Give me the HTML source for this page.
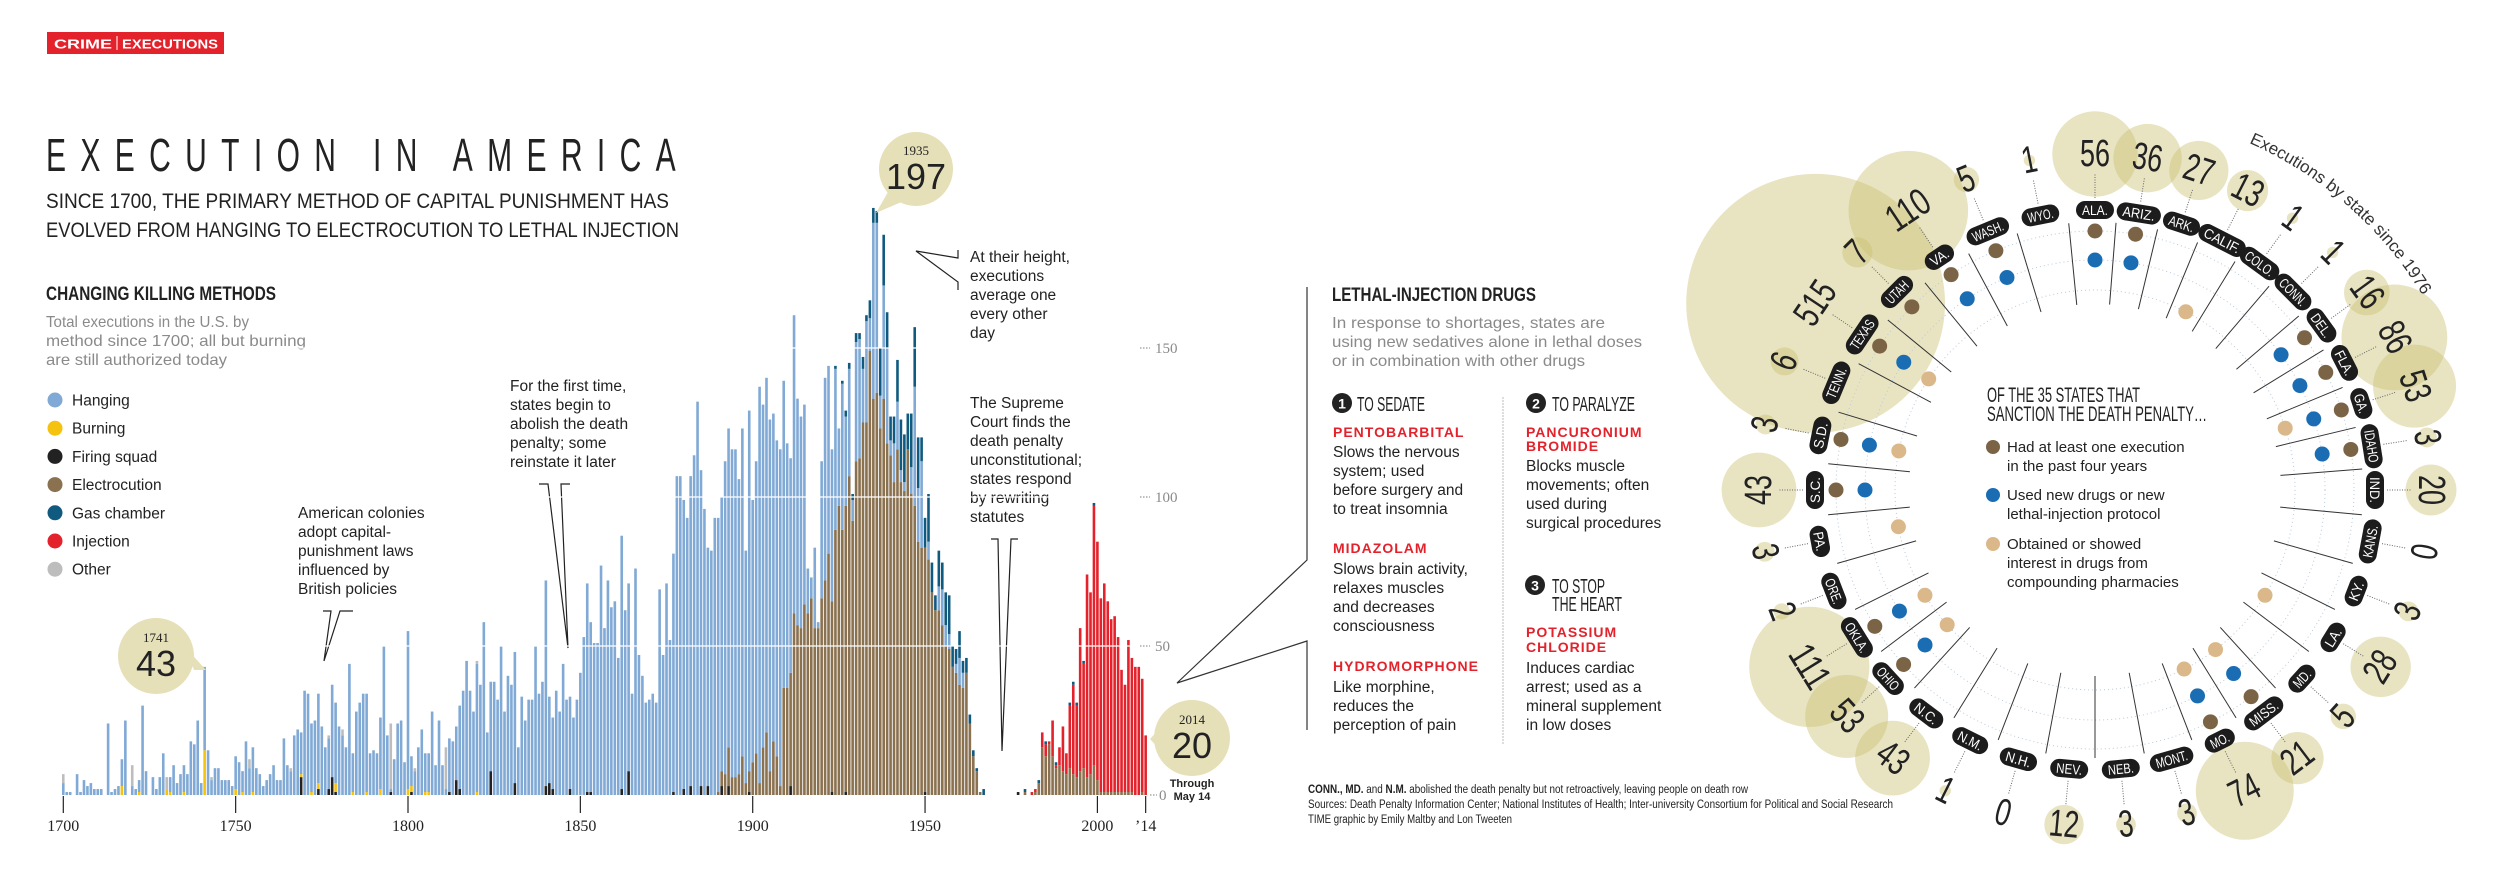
<!DOCTYPE html>
<html><head><meta charset="utf-8"><title>Execution in America</title>
<style>
html,body{margin:0;padding:0;background:#fff;}
svg{display:block;}
.n{font-family:"Liberation Sans Narrow","Liberation Sans",sans-serif;}
.s{font-family:"Liberation Sans",sans-serif;}
.sf{font-family:"Liberation Serif",serif;}
</style></head>
<body>
<svg id="root" width="2500" height="879" viewBox="0 0 2500 879" xmlns="http://www.w3.org/2000/svg">
<g>
<rect x="47" y="32" width="177" height="22" fill="#e3222b"/>
<text x="54" y="48.5" class="s" font-size="13" font-weight="bold" fill="#fff" textLength="58" lengthAdjust="spacingAndGlyphs">CRIME</text>
<line x1="117" y1="36" x2="117" y2="50" stroke="#fff" stroke-width="1"/>
<text x="122" y="48.5" class="s" font-size="13" font-weight="bold" fill="#fff" textLength="96" lengthAdjust="spacingAndGlyphs">EXECUTIONS</text>
</g>
<text x="46" y="171" class="n" font-size="46" letter-spacing="22" fill="#222" textLength="644" lengthAdjust="spacingAndGlyphs">EXECUTION IN AMERICA</text>
<text x="46" y="208" class="n" font-size="21" fill="#222" textLength="623" lengthAdjust="spacingAndGlyphs">SINCE 1700, THE PRIMARY METHOD OF CAPITAL PUNISHMENT HAS</text>
<text x="46" y="237" class="n" font-size="21" fill="#222" textLength="633" lengthAdjust="spacingAndGlyphs">EVOLVED FROM HANGING TO ELECTROCUTION TO LETHAL INJECTION</text>
<text x="46" y="300" class="n" font-size="19" font-weight="bold" fill="#222" textLength="230" lengthAdjust="spacingAndGlyphs">CHANGING KILLING METHODS</text>
<g class="n" font-size="16" fill="#8a8a8a">
<text x="46" y="327" textLength="203" lengthAdjust="spacingAndGlyphs">Total executions in the U.S. by</text>
<text x="46" y="346" textLength="260" lengthAdjust="spacingAndGlyphs">method since 1700; all but burning</text>
<text x="46" y="365" textLength="181" lengthAdjust="spacingAndGlyphs">are still authorized today</text>
</g>
<g id="legend"></g>

<g class="s" font-size="15.5" fill="#222">
<g>
<text x="298" y="518">American colonies</text><text x="298" y="537">adopt capital-</text><text x="298" y="556">punishment laws</text><text x="298" y="575">influenced by</text><text x="298" y="594">British policies</text>
<polyline points="323,611 331,611 324,661 340,611 353,611" fill="none" stroke="#222" stroke-width="1.2"/>
</g>
<g>
<text x="510" y="391">For the first time,</text><text x="510" y="410">states begin to</text><text x="510" y="429">abolish the death</text><text x="510" y="448">penalty; some</text><text x="510" y="467">reinstate it later</text>
<polyline points="539,484 548,484 568,648 561,484 570,484" fill="none" stroke="#222" stroke-width="1.2"/>
</g>
<g>
<text x="970" y="262">At their height,</text><text x="970" y="281">executions</text><text x="970" y="300">average one</text><text x="970" y="319">every other</text><text x="970" y="338">day</text>
<polyline points="958,250 958,258 916,251 958,282 958,290" fill="none" stroke="#222" stroke-width="1.2"/>
</g>
<g>
<text x="970" y="408">The Supreme</text><text x="970" y="427">Court finds the</text><text x="970" y="446">death penalty</text><text x="970" y="465">unconstitutional;</text><text x="970" y="484">states respond</text><text x="970" y="503">by rewriting</text><text x="970" y="522">statutes</text>
<polyline points="991,539 998,539 1002,751 1011,539 1018,539" fill="none" stroke="#222" stroke-width="1.2"/>
</g>
</g>

<g id="chart"></g>

<g>
<polygon points="888,192 906,200 876,213" fill="#e6e0b8"/>
<circle cx="916" cy="169" r="37" fill="#e6e0b8"/>
<text x="916" y="155" text-anchor="middle" class="sf" font-size="13" fill="#222">1935</text>
<text x="916" y="189" text-anchor="middle" class="n" font-size="36" fill="#222">197</text>
</g>
<g>
<polygon points="186,648 194,670 206,670" fill="#e6e0b8"/>
<circle cx="156" cy="656" r="38" fill="#e6e0b8"/>
<text x="156" y="642" text-anchor="middle" class="sf" font-size="13" fill="#222">1741</text>
<text x="156" y="676" text-anchor="middle" class="n" font-size="36" fill="#222">43</text>
</g>
<g>
<polygon points="1160,728 1160,750 1150,739" fill="#e6e0b8"/>
<circle cx="1192" cy="738" r="38" fill="#e6e0b8"/>
<text x="1192" y="724" text-anchor="middle" class="sf" font-size="13" fill="#222">2014</text>
<text x="1192" y="758" text-anchor="middle" class="n" font-size="36" fill="#222">20</text>
<text x="1192" y="787" text-anchor="middle" class="n" font-size="11" font-weight="bold" fill="#222">Through</text>
<text x="1192" y="800" text-anchor="middle" class="n" font-size="11" font-weight="bold" fill="#222">May 14</text>
</g>

<polyline points="1307,287 1307,560 1177,683 1307,641 1307,730" fill="none" stroke="#333" stroke-width="1.2"/>

<g>
<text x="1332" y="301" class="n" font-size="19" font-weight="bold" fill="#222" textLength="204" lengthAdjust="spacingAndGlyphs">LETHAL-INJECTION DRUGS</text>
<g class="n" font-size="16" fill="#8a8a8a">
<text x="1332" y="328" textLength="273" lengthAdjust="spacingAndGlyphs">In response to shortages, states are</text>
<text x="1332" y="347" textLength="310" lengthAdjust="spacingAndGlyphs">using new sedatives alone in lethal doses</text>
<text x="1332" y="366" textLength="253" lengthAdjust="spacingAndGlyphs">or in combination with other drugs</text>
</g>
<line x1="1503" y1="397" x2="1503" y2="744" stroke="#bbb" stroke-width="1" stroke-dasharray="2 1"/>
<g>
<circle cx="1342" cy="403" r="10" fill="#222"/><text x="1342" y="408.5" text-anchor="middle" class="s" font-size="14" font-weight="bold" fill="#fff">1</text>
<text x="1357" y="411" class="n" font-size="20" fill="#222" textLength="68" lengthAdjust="spacingAndGlyphs">TO SEDATE</text>
</g>
<g>
<circle cx="1536" cy="403" r="10" fill="#222"/><text x="1536" y="408.5" text-anchor="middle" class="s" font-size="14" font-weight="bold" fill="#fff">2</text>
<text x="1552" y="411" class="n" font-size="20" fill="#222" textLength="83" lengthAdjust="spacingAndGlyphs">TO PARALYZE</text>
</g>
<g>
<circle cx="1535" cy="585" r="10" fill="#222"/><text x="1535" y="590.5" text-anchor="middle" class="s" font-size="14" font-weight="bold" fill="#fff">3</text>
<text x="1552" y="593" class="n" font-size="20" fill="#222" textLength="53" lengthAdjust="spacingAndGlyphs">TO STOP</text>
<text x="1552" y="611" class="n" font-size="20" fill="#222" textLength="70" lengthAdjust="spacingAndGlyphs">THE HEART</text>
</g>
<g class="s" font-size="14" font-weight="bold" fill="#e3222b" letter-spacing="1">
<text x="1333" y="437">PENTOBARBITAL</text>
<text x="1333" y="553">MIDAZOLAM</text>
<text x="1333" y="671">HYDROMORPHONE</text>
<text x="1526" y="437">PANCURONIUM</text>
<text x="1526" y="451">BROMIDE</text>
<text x="1526" y="637">POTASSIUM</text>
<text x="1526" y="652">CHLORIDE</text>
</g>
<g class="s" font-size="15.5" fill="#222">
<text x="1333" y="457">Slows the nervous</text><text x="1333" y="476">system; used</text><text x="1333" y="495">before surgery and</text><text x="1333" y="514">to treat insomnia</text>
<text x="1333" y="574">Slows brain activity,</text><text x="1333" y="593">relaxes muscles</text><text x="1333" y="612">and decreases</text><text x="1333" y="631">consciousness</text>
<text x="1333" y="692">Like morphine,</text><text x="1333" y="711">reduces the</text><text x="1333" y="730">perception of pain</text>
<text x="1526" y="471">Blocks muscle</text><text x="1526" y="490">movements; often</text><text x="1526" y="509">used during</text><text x="1526" y="528">surgical procedures</text>
<text x="1526" y="673">Induces cardiac</text><text x="1526" y="692">arrest; used as a</text><text x="1526" y="711">mineral supplement</text><text x="1526" y="730">in low doses</text>
</g>
</g>
<g class="n" font-size="11.5" fill="#222">
<text x="1308" y="793" textLength="440" lengthAdjust="spacingAndGlyphs"><tspan font-weight="bold">CONN., MD.</tspan> and <tspan font-weight="bold">N.M.</tspan> abolished the death penalty but not retroactively, leaving people on death row</text>
<text x="1308" y="808" textLength="585" lengthAdjust="spacingAndGlyphs">Sources: Death Penalty Information Center; National Institutes of Health; Inter-university Consortium for Political and Social Research</text>
<text x="1308" y="823" textLength="204" lengthAdjust="spacingAndGlyphs">TIME graphic by Emily Maltby and Lon Tweeten</text>
</g>

<g id="ring"></g>

<g>
<text x="1987" y="402" class="n" font-size="21" fill="#222" textLength="153" lengthAdjust="spacingAndGlyphs">OF THE 35 STATES THAT</text>
<text x="1987" y="421" class="n" font-size="21" fill="#222" textLength="220" lengthAdjust="spacingAndGlyphs">SANCTION THE DEATH PENALTY…</text>
<circle cx="1993" cy="447" r="7" fill="#7b6446"/>
<text x="2007" y="452" class="s" font-size="15" fill="#222">Had at least one execution</text>
<text x="2007" y="471" class="s" font-size="15" fill="#222">in the past four years</text>
<circle cx="1993" cy="495" r="7" fill="#1a6db3"/>
<text x="2007" y="500" class="s" font-size="15" fill="#222">Used new drugs or new</text>
<text x="2007" y="519" class="s" font-size="15" fill="#222">lethal-injection protocol</text>
<circle cx="1993" cy="544" r="7" fill="#dbb88a"/>
<text x="2007" y="549" class="s" font-size="15" fill="#222">Obtained or showed</text>
<text x="2007" y="568" class="s" font-size="15" fill="#222">interest in drugs from</text>
<text x="2007" y="587" class="s" font-size="15" fill="#222">compounding pharmacies</text>
</g>
<defs><path id="arcPath" d="M 2249 143 A 382 382 0 0 1 2432 312" fill="none"/></defs>
<text class="s" font-size="17" fill="#333"><textPath href="#arcPath">Executions by state since 1976</textPath></text>
</svg>

<script>
// ===== chart data =====
var startYear = 1700;
var totals = [
7,1,1,0,7,1,5,3,4,2,2,2,0,24,1,2,3,12,25,0,10,2,5,30,8,0,6,2,6,14,4,6,10,4,7,10,7,18,17,25,4,43,
15,6,9,9,5,5,5,3,13,11,8,18,12,16,9,7,3,5,7,10,5,5,19,10,9,20,22,21,35,34,24,25,34,23,16,20,37,31,23,22,16,44,14,28,31,34,34,14,15,14,26,50,20,24,12,24,25,11,55,13,9,16,22,14,14,28,10,25,10,16,19,18,23,30,35,45,
35,28,45,37,58,21,38,38,32,50,28,40,37,48,16,33,25,32,32,50,34,38,72,33,26,35,28,44,32,33,26,32,41,53,71,58,51,51,77,56,72,63,65,46,87,62,71,34,76,47,40,31,32,34,31,69,47,71,52,81,107,107,99,93,107,114,132,109,96,83,82,93,93,100,112,123,116,116,106,123,82,129,99,112,137,131,140,126,128,119,116,
139,118,113,161,133,127,131,76,73,83,58,112,140,144,116,144,123,139,129,145,101,155,155,147,161,166,197,196,150,188,162,127,127,146,126,121,127,128,157,120,120,82,101,77,62,82,78,68,67,49,49,55,45,46,20,14,6,1,2,
0,0,0,0,0,0,0,0,0,
1,0,2,0,1,2,5,21,18,18,25,11,16,23,14,31,38,31,56,45,74,68,98,85,66,71,65,59,60,53,42,37,52,46,43,43,39,20];
var elecStart = 1890;
var electrocution = [
1,5,7,13,6,6,7,13,4,7,11,14,4,16,21,8,18,13,3,
36,36,38,61,57,56,64,61,66,56,56,66,72,81,64,89,97,89,96,107,92,112,113,125,125,149,133,135,123,133,118,114,105,116,105,102,116,101,97,85,83,82,79,68,62,62,57,50,49,43,41,37,36,41,24,13,8,1,0,
0,0,0,0,0,0,0,0,0,
0,0,1,0,0,1,4,16,13,17,13,9,10,8,7,9,7,6,8,9,6,7,10,5,1,1,1,1,1,1,1,1,1,1,0,0,1,0];
var gasStart = 1924;
var gasChamber = [
1,0,1,2,2,2,3,2,4,2,6,5,4,16,17,12,8,9,14,17,16,12,18,20,17,8,10,16,10,5,12,9,11,13,7,5,9,4,5,3,2,1,0,2,
0,0,0,0,0,0,0,0,0,
0,0,1,0,0,0,1,0,1,0,0,1,0,0,0,1,1,1,0,1,0,0,1,0,0,0,0,0,0,0,0,0,0,0,0,0,0,0];
var burning = [[1712,4],[1717,3],[1722,1],[1730,2],[1731,1],[1735,1],[1741,15],[1750,2],[1752,1],[1755,1],[1769,1],[1772,1],[1774,2],[1779,3],[1784,1],[1788,1],[1792,2],[1800,2],[1801,2],[1805,1],[1806,1],[1820,1]];
var firingSquad = [[1769,6],[1774,2],[1777,2],[1778,6],[1779,1],[1795,1],[1801,1],[1812,1],[1814,5],[1815,2],[1824,8],[1831,4],[1840,3],[1841,4],[1842,2],[1847,2],[1852,1],[1853,1],[1862,2],[1864,8],[1877,1],[1880,2],[1882,3],[1885,3],[1887,3],[1891,3],[1893,3],[1899,1],[1911,3],[1923,1],[1927,1],[1950,1],[1977,1]];
var other = [[1700,3],[1712,4],[1720,7],[1730,4],[1743,1],[1754,3],[1766,1],[1777,1],[1781,2],[1795,22],[1802,1],[1811,14],[1820,1]];
var yTicks = [0,50,100,150];
var xTickYears = [1700,1750,1800,1850,1900,1950,2000,2014];
var xTickLabels = ["1700","1750","1800","1850","1900","1950","2000","’14"];

// ===== state data =====
var stateNames = ["ALA.","ARIZ.","ARK.","CALIF.","COLO.","CONN.","DEL.","FLA.","GA.","IDAHO","IND.","KANS.","KY.","LA.","MD.","MISS.","MO.","MONT.","NEB.","NEV.","N.H.","N.M.","N.C.","OHIO","OKLA.","ORE.","PA.","S.C.","S.D.","TENN.","TEXAS","UTAH","VA.","WASH.","WYO."];
var stateExecutions = [56,36,27,13,1,1,16,86,53,3,20,0,3,28,5,21,74,3,3,12,0,1,43,53,111,2,3,43,3,6,515,7,110,5,1];
var hadExecution = [1,1,0,0,0,0,1,1,1,1,0,0,0,0,0,1,1,0,0,0,0,0,0,1,1,0,0,1,1,0,1,1,1,1,0];
var newDrugs =     [1,1,0,0,0,0,1,1,1,1,0,0,0,0,0,1,1,0,0,0,0,0,0,1,1,0,0,1,1,0,1,0,1,1,0];
var compounding =  [0,0,0,1,0,0,0,0,1,0,0,0,0,1,0,1,1,0,0,0,0,0,0,1,1,0,1,0,1,0,1,0,0,0,0];

var NS = "http://www.w3.org/2000/svg";
function mk(tag, attrs, parent){ var e=document.createElementNS(NS,tag); for(var k in attrs){e.setAttribute(k,attrs[k]);} parent.appendChild(e); return e; }
function xScale(year){ return 63.3 + 3.447*(year-1700); }
function yScale(v){ return 795 - 2.98*v; }
function lookup(pairs, year){ for(var i=0;i<pairs.length;i++){ if(pairs[i][0]===year) return pairs[i][1]; } return 0; }

var colors = {hanging:"#80a9d5", burning:"#f5c20f", firing:"#222222", electrocution:"#8a7150", gas:"#105a80", injection:"#e3222b", other:"#bdbdbd"};

var legend = document.getElementById('legend');
var legItems = [["Hanging","hanging"],["Burning","burning"],["Firing squad","firing"],["Electrocution","electrocution"],["Gas chamber","gas"],["Injection","injection"],["Other","other"]];
legItems.forEach(function(it, i){
  var y = 400 + i*28.2;
  var g = mk('g',{},legend);
  
  
  mk('circle',{cx:55,cy:y,r:7.5,fill:colors[it[1]]},g);
  var t = mk('text',{x:72,y:y+5.5,'class':'s','font-size':15.5,fill:'#222'},g);
  t.textContent = it[0];
});

var chart = document.getElementById('chart');
var barW = 2.6;
for (var i=0;i<totals.length;i++){
  var yr = startYear + i;
  var tot = totals[i];
  if (tot<=0) continue;
  var el = (yr>=elecStart) ? (electrocution[yr-elecStart]||0) : 0;
  var ga = (yr>=gasStart) ? (gasChamber[yr-gasStart]||0) : 0;
  var bu = lookup(burning, yr), fi = lookup(firingSquad, yr), ot = lookup(other, yr);
  var rem = Math.max(0, tot - el - ga - bu - fi - ot);
  var segs = [["firing",fi],["burning",bu],["electrocution",el]];
  if (yr>=1977) segs.push(["injection",rem]); else segs.push(["hanging",rem]);
  segs.push(["gas",ga]); segs.push(["other",ot]);
  var g = mk('g',{},chart);
  
  
  var acc = 0;
  segs.forEach(function(s){
    if (s[1]<=0) return;
    var y0 = yScale(acc), y1 = yScale(acc + s[1]);
    var r = mk('rect',{x:(xScale(yr)-barW/2).toFixed(2),y:y1.toFixed(2),width:barW,height:(y0-y1).toFixed(2),fill:colors[s[0]]},g);
    
    
    acc += s[1];
  });
}
yTicks.forEach(function(v){
  if (v===0) return;
  var l = mk('line',{x1:60,x2:1150,y1:yScale(v),y2:yScale(v),stroke:'#fff','stroke-width':1.3},chart);
  
  
});
yTicks.forEach(function(v){
  var y = yScale(v);
  var g = mk('g',{},chart);
  
  
  mk('line',{x1:(v===0?1150:1140),x2:(v===0?1157:1150),y1:y,y2:y,stroke:'#999','stroke-width':1.2,'stroke-dasharray':'1.5 1.5'},g);
  var t = mk('text',{x:(v===0?1159:1155),y:y+5,'class':'sf','font-size':15,fill:'#8a8a8a'},g);
  t.textContent = String(v);
});
xTickYears.forEach(function(yr, i){
  var x = xScale(yr);
  var g = mk('g',{},chart);
  
  
  mk('line',{x1:x,x2:x,y1:796,y2:813,stroke:'#222','stroke-width':1.2},g);
  var t = mk('text',{x:x,y:831,'text-anchor':'middle','class':'sf','font-size':16,fill:'#222'},g);
  t.textContent = xTickLabels[i];
});

// ===== state ring =====
var ring = document.getElementById('ring');
var CX = 2095, CY = 490, R = 280;
var anchors = [[0,0],[10,90],[18.5,180],[27,270],[35,360]];
function angleFor(i){
  for (var k=0;k<anchors.length-1;k++){
    var a=anchors[k], b=anchors[k+1];
    if (i>=a[0] && i<=b[0]) return a[1] + (b[1]-a[1])*(i-a[0])/(b[0]-a[0]);
  }
  return 0;
}
function pt(ang, r){ var t = ang*Math.PI/180; return [CX + r*Math.sin(t), CY - r*Math.cos(t)]; }
function textRot(ang){ return (ang>90 && ang<270) ? ang-180 : ang; }

var bubbleLayer = mk('g',{},ring);


var gridLayer = mk('g',{},ring);


[259,230,200].forEach(function(r){
  mk('circle',{cx:CX,cy:CY,r:r,fill:'none',stroke:'#b9cadb','stroke-width':1,'stroke-dasharray':'1 3'},gridLayer);
});
stateNames.forEach(function(name, i){
  var a = angleFor(i+0.5);
  var p1 = pt(a, 268), p2 = pt(a, 186);
  mk('line',{x1:p1[0],y1:p1[1],x2:p2[0],y2:p2[1],stroke:'#333','stroke-width':1},gridLayer);
});

stateNames.forEach(function(name, i){
  var a = angleFor(i);
  var v = stateExecutions[i];
  var g = mk('g',{},ring);
  
  
  var bc = pt(a, 336);
  if (v>0){
    var c = mk('circle',{cx:bc[0],cy:bc[1],r:(5.7*Math.sqrt(v)).toFixed(1),fill:'#c8be6e','fill-opacity':0.42},bubbleLayer);
    
    
  }
  var l1 = pt(a, 292), l2 = pt(a, 316);
  mk('line',{x1:l1[0],y1:l1[1],x2:l2[0],y2:l2[1],stroke:'#666','stroke-width':1,'stroke-dasharray':'1 1.5'},g);
  var rot = textRot(a);
  var s = String(v);
  var num = mk('text',{x:bc[0],y:bc[1],'text-anchor':'middle','dominant-baseline':'central','class':'n','font-size':38,fill:'#222',textLength:(s.length*15),lengthAdjust:'spacingAndGlyphs',transform:'rotate('+rot.toFixed(1)+' '+bc[0].toFixed(1)+' '+bc[1].toFixed(1)+')'},g);
  
  
  num.textContent = s;
  var pc = pt(a, R);
  var tw = name.length*6.5;
  var w = tw + 12;
  var pg = mk('g',{transform:'translate('+pc[0].toFixed(1)+' '+pc[1].toFixed(1)+') rotate('+rot.toFixed(1)+')'},g);
  
  
  mk('rect',{x:-w/2,y:-9,width:w,height:18,rx:9,fill:'#1c1c1c'},pg);
  var t = mk('text',{x:0,y:5,'text-anchor':'middle','class':'n','font-size':14,fill:'#fff',textLength:tw,lengthAdjust:'spacingAndGlyphs'},pg);
  t.textContent = name;
  if (hadExecution[i]){ var d1=pt(a,259); var c1=mk('circle',{cx:d1[0],cy:d1[1],r:7.5,fill:'#7b6446'},g);   }
  if (newDrugs[i]){ var d2=pt(a,230); var c2=mk('circle',{cx:d2[0],cy:d2[1],r:7.5,fill:'#1a6db3'},g);   }
  if (compounding[i]){ var d3=pt(a,200); var c3=mk('circle',{cx:d3[0],cy:d3[1],r:7.5,fill:'#dbb88a'},g);   }
});
</script>
</body></html>
